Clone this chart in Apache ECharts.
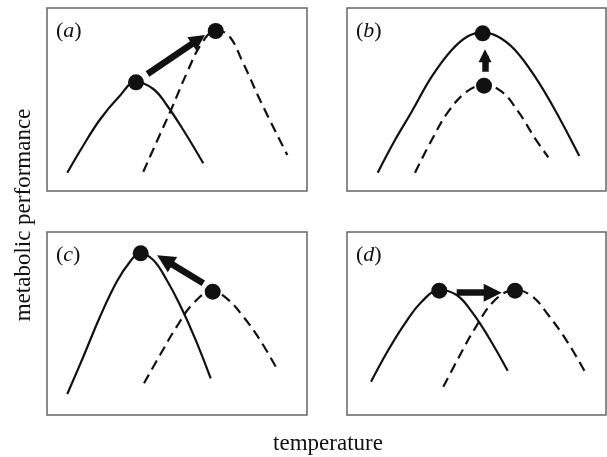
<!DOCTYPE html>
<html>
<head>
<meta charset="utf-8">
<script src="https://cdn.jsdelivr.net/npm/echarts@6/dist/echarts.min.js"></script>
<style>html,body{margin:0;padding:0;background:#fff;}#chart{width:607px;height:457px;}</style>
</head>
<body>
<div id="chart"></div>
<script>
// ---- data (arbitrary temperature / performance units) ----
const panelNames = ['a', 'b', 'c', 'd'];
const xLabel = 'temperature';
const yLabel = 'metabolic performance';

const solidA = [[20.3,18.3],[36.3,45.5],[53,71.5],[71.3,93.5],[89,109],[106.3,102],[119.7,86],[136.3,61],[156.3,27.7]];
const dashedA = [[96.3,19.3],[109.7,49.3],[124.7,82.7],[139.7,117.7],[154.7,147.7],[168.7,160],[181.3,156],[196.3,127.7],[213,91],[240.3,36]];
const dotsA = [[89,108.7],[168.7,160]];
const arrowA = [[100.5,117],[151.4,151.5]];   // shaft start, shaft end (head drawn at end)

const solidB = [[30.7,18.3],[48,51],[64.7,79.3],[84.7,114.3],[104.7,141],[121.3,155],[135.7,158.7],[151.3,154.3],[168,141],[188,114.3],[208,81],[232.3,35]];
const dashedB = [[68,18.3],[84.7,51],[101.3,79.3],[119.7,99.3],[137,106],[154.7,99.3],[171.3,79.3],[188,52.7],[201.3,33.7]];
const dotsB = [[135.7,157.7],[137,105.3]];
const arrowB = [[138,119.3],[138,135.2]];

const solidC = [[20.3,21],[36.3,58.3],[53,98.3],[69.7,133.3],[83,153.3],[93,161.7],[106.3,155],[119.7,135],[133,110],[148,76.7],[163.7,36.7]];
const dashedC = [[97,31.7],[113,60],[129.7,88.3],[146.3,111.7],[165.3,124],[179.7,116.7],[196.3,98.3],[213,75],[229.7,46.7]];
const dotsC = [[93.7,161.7],[165.7,123.3]];
const arrowC = [[156.3,131.7],[117.8,155.1]];

const solidD = [[24,33.3],[41.3,65],[58,91.7],[74.7,113.3],[92.3,125],[109.7,120],[124.7,103.3],[141.3,78.3],[160.7,44.3]];
const dashedD = [[96.3,28.3],[111.3,56.7],[128,86.7],[148,115],[168,125],[184.7,119],[201.3,100],[221.3,71.7],[239.7,40]];
const dotsD = [[92.3,124.3],[168,124.3]];
const arrowD = [[109.7,122.3],[145.7,122.3]];

const solids = [solidA, solidB, solidC, solidD];
const dasheds = [dashedA, dashedB, dashedC, dashedD];
const dots = [dotsA, dotsB, dotsC, dotsD];
const arrows = [arrowA, arrowB, arrowC, arrowD];

// ---- layout ----
const boxes = [
  {left: 47, top: 8, width: 260, height: 183},
  {left: 347, top: 8, width: 259, height: 183},
  {left: 47, top: 232, width: 260, height: 183},
  {left: 347, top: 232, width: 259, height: 183}
];
const headSizes = [[20, 16], [15, 13], [19, 18], [16, 18]];
const ink = '#111';
const font = '"Liberation Serif", "Times New Roman", serif';

const grid = boxes.map(b => ({
  left: b.left, top: b.top, width: b.width, height: b.height,
  show: true, borderColor: '#666', borderWidth: 1.5, backgroundColor: 'transparent'
}));
const hiddenAxis = {
  axisLine: {show: false}, axisTick: {show: false}, axisLabel: {show: false}, splitLine: {show: false}
};
const xAxis = boxes.map((b, i) => Object.assign({type: 'value', gridIndex: i, min: 0, max: b.width}, hiddenAxis));
const yAxis = boxes.map((b, i) => Object.assign({type: 'value', gridIndex: i, min: 0, max: b.height}, hiddenAxis));

const series = [];
for (let i = 0; i < 4; i++) {
  series.push({
    type: 'line', xAxisIndex: i, yAxisIndex: i, data: solids[i], smooth: 0.4,
    showSymbol: false, symbol: 'none', lineStyle: {color: ink, width: 2.2}, silent: true, z: 2
  });
  series.push({
    type: 'line', xAxisIndex: i, yAxisIndex: i, data: dasheds[i], smooth: 0.4,
    showSymbol: false, symbol: 'none', lineStyle: {color: ink, width: 2.2, type: [10, 6]}, silent: true, z: 2
  });
  series.push({
    type: 'lines', coordinateSystem: 'cartesian2d', xAxisIndex: i, yAxisIndex: i,
    data: [{coords: arrows[i]}],
    symbol: ['none', 'triangle'], symbolSize: headSizes[i],
    lineStyle: {color: ink, width: 6.5, opacity: 1}, silent: true, z: 3
  });
  series.push({
    type: 'scatter', xAxisIndex: i, yAxisIndex: i, data: dots[i], symbol: 'circle', symbolSize: 16,
    itemStyle: {color: ink, opacity: 1}, silent: true, z: 4
  });
}

const graphic = boxes.map((b, i) => ({
  type: 'text', left: b.left + 9, top: b.top + 12,
  style: {
    text: '{p|(}{l|' + panelNames[i] + '}{p|)}',
    rich: {
      p: {fontFamily: font, fontSize: 22, fill: ink},
      l: {fontFamily: font, fontSize: 22, fontStyle: 'italic', fill: ink}
    }
  }
}));
graphic.push({
  type: 'text', x: 328, y: 444,
  style: {text: xLabel, fontFamily: font, fontSize: 23, fill: ink, align: 'center', verticalAlign: 'middle'}
});
graphic.push({
  type: 'text', x: 24, y: 215, rotation: Math.PI / 2,
  style: {text: yLabel, fontFamily: font, fontSize: 23, fill: ink, align: 'center', verticalAlign: 'middle'}
});

const chart = echarts.init(document.getElementById('chart'), null, {renderer: 'canvas'});
chart.setOption({
  animation: false,
  backgroundColor: '#fff',
  grid, xAxis, yAxis, series, graphic
});
</script>
</body>
</html>
